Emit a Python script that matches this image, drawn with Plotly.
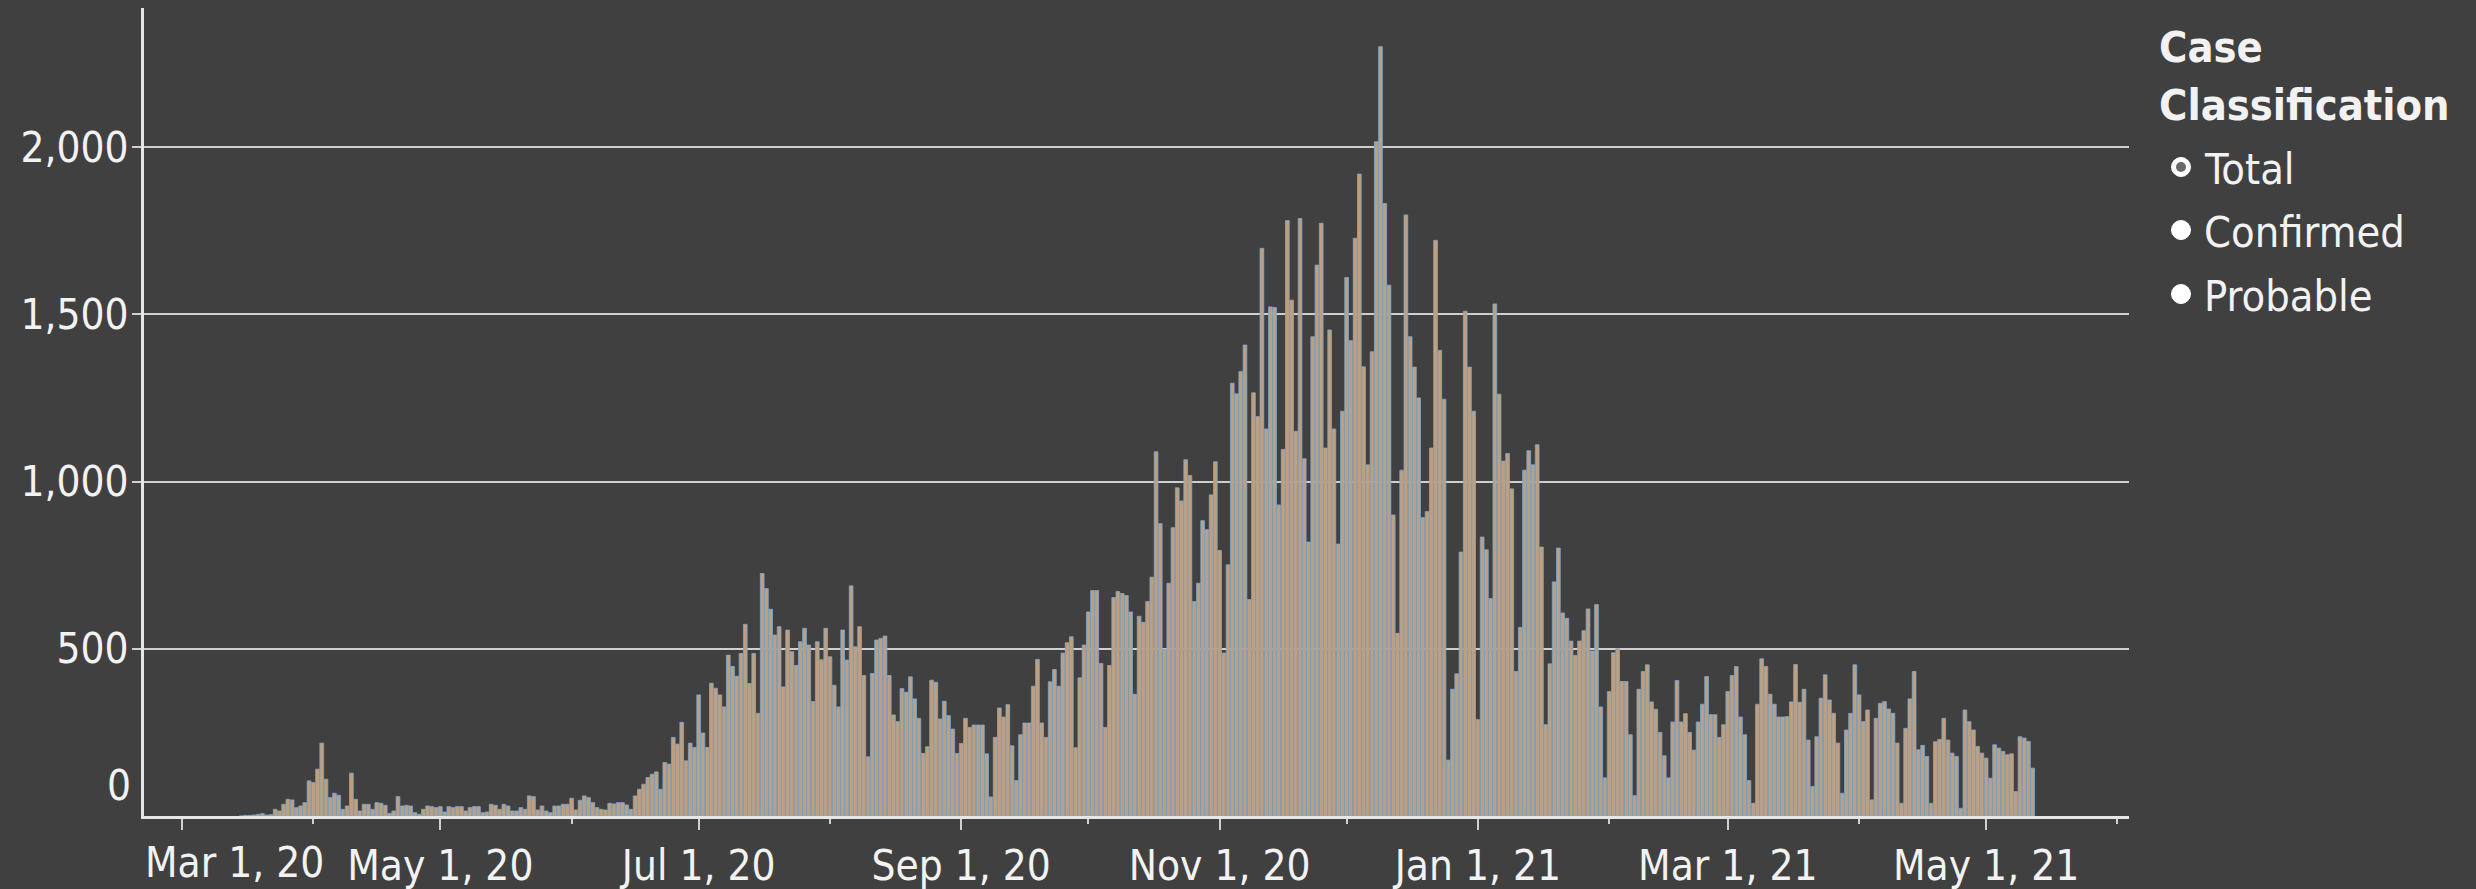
import pandas as pd
import plotly.graph_objects as go

# ---------------- data (daily case counts, Total) ----------------
start_date = "2020-03-15"
mar_2020 = [0, 2, 2, 3, 5, 7, 3, 4, 20, 15, 35, 50, 48, 25, 30, 40, 105]
apr_2020 = [100, 140, 218, 110, 55, 68, 62, 20, 30, 128, 50, 15, 35, 35, 20, 40, 38, 32, 8, 15,
            58, 30, 32, 30, 10, 5, 20, 30, 28, 25]
may_2020 = [28, 12, 28, 25, 28, 28, 15, 25, 28, 28, 10, 12, 35, 32, 20, 35, 30, 15, 15, 25,
            20, 60, 58, 18, 30, 15, 10, 30, 30, 35, 35]
jun_2020 = [53, 18, 47, 60, 55, 40, 25, 20, 18, 38, 36, 40, 40, 33, 20, 60, 80, 95, 115, 125,
            132, 80, 160, 155, 235, 215, 280, 165, 218, 205]
jul_2020 = [362, 248, 205, 397, 382, 362, 326, 481, 447, 418, 486, 573, 396, 486, 307, 725, 680,
            618, 541, 566, 386, 556, 491, 450, 521, 561, 511, 342, 521, 467, 561]
aug_2020 = [476, 391, 326, 556, 466, 688, 506, 566, 420, 177, 426, 526, 531, 538, 420, 302, 282,
            381, 370, 416, 350, 292, 187, 207, 406, 400, 290, 343, 300, 260, 187]
sep_2020 = [217, 292, 265, 272, 272, 272, 186, 57, 235, 323, 296, 333, 210, 106, 243, 278, 278,
            388, 468, 278, 235, 401, 438, 388, 487, 518, 536, 204, 413, 511]
oct_2020 = [610, 674, 674, 456, 265, 450, 653, 671, 665, 659, 610, 364, 597, 579, 641, 714, 1089,
            874, 499, 696, 862, 981, 942, 1065, 1018, 641, 696, 883, 856, 960, 1059]
nov_2020 = [794, 487, 751, 1294, 1262, 1329, 1408, 647, 1265, 1194, 1697, 1157, 1522, 1520, 930,
            1096, 1780, 1542, 1150, 1786, 1068, 819, 1433, 1647, 1772, 1100, 1453, 1157, 813, 1210]
dec_2020 = [1610, 1421, 1727, 1919, 1343, 1050, 1388, 2016, 2300, 1831, 1587, 900, 546, 1034, 1797,
            1433, 1342, 1250, 892, 910, 1100, 1721, 1392, 1246, 167, 379, 425, 789, 1509, 1342, 1210]
jan_2021 = [288, 834, 796, 650, 1531, 1261, 1061, 1084, 978, 432, 564, 1034, 1092, 1050, 1110, 804,
            273, 455, 700, 801, 607, 591, 523, 480, 523, 554, 619, 493, 632, 326, 114]
feb_2021 = [372, 488, 500, 402, 402, 243, 61, 379, 432, 452, 341, 319, 250, 180, 114, 281, 405, 281,
            306, 250, 197, 281, 334, 417, 303, 303, 235, 273]
mar_2021 = [372, 420, 447, 296, 243, 106, 38, 334, 470, 447, 364, 334, 296, 296, 297, 341, 453, 340,
            379, 227, 88, 237, 352, 422, 347, 307, 218, 68, 257, 307, 452]
apr_2021 = [362, 282, 317, 48, 292, 337, 342, 320, 307, 218, 38, 262, 350, 432, 198, 211, 178, 38,
            222, 229, 292, 227, 188, 178, 23, 317, 282, 257, 208, 188]
may_2021 = [173, 113, 213, 203, 193, 183, 186, 73, 237, 233, 223, 143]

y_tick_values = [500, 1000, 1500, 2000]
x_tick_values = ["2020-03-01", "2020-05-01", "2020-07-01", "2020-09-01", "2020-11-01",
                 "2021-01-01", "2021-03-01", "2021-05-01"]
x_tick_labels = ["", "May 1, 20", "Jul 1, 20", "Sep 1, 20", "Nov 1, 20",
                 "Jan 1, 21", "Mar 1, 21", "May 1, 21"]
first_tick_label = "Mar 1, 20"
minor_tick_values = ["2020-04-01", "2020-06-01", "2020-08-01", "2020-10-01", "2020-12-01",
                     "2021-02-01", "2021-04-01", "2021-06-01"]
legend_title = ["Case", "Classification"]
legend_items = ["Total", "Confirmed", "Probable"]

# ---------------------------------------------------------------
values = (mar_2020 + apr_2020 + may_2020 + jun_2020 + jul_2020 + aug_2020 + sep_2020 +
          oct_2020 + nov_2020 + dec_2020 + jan_2021 + feb_2021 + mar_2021 + apr_2021 + may_2021)
dates = pd.date_range(start_date, periods=len(values), freq="D")

W, H = 2476, 889
L, R, T, B = 144, 2129, 8, 816          # plot area in pixels
BG = "#404040"
TXT = "#f2f2f2"
FONT = "DejaVu Sans Condensed, DejaVu Sans, sans-serif"
TICK_SIZE = 42
LEG_SIZE = 43


def px(xp):
    return (xp - L) / (R - L)


def py(yp):
    return (B - yp) / (B - T)


fig = go.Figure()
fig.add_trace(go.Bar(
    x=dates, y=values,
    marker=dict(color="#bea07e", line=dict(color="#7ea7d0", width=0.8)),
    showlegend=False,
))

annotations = [
    dict(text=first_tick_label, xref="paper", yref="paper", x=0, y=py(862),
         xanchor="left", yanchor="middle", showarrow=False, borderpad=0,
         font=dict(family=FONT, size=TICK_SIZE, color=TXT)),
    dict(text="0", xref="paper", yref="paper", x=px(133), y=py(785),
         xanchor="right", yanchor="middle", showarrow=False,
         font=dict(family=FONT, size=TICK_SIZE, color=TXT)),
    dict(text="<b>%s</b>" % legend_title[0], xref="paper", yref="paper", x=px(2157), y=py(47),
         xanchor="left", yanchor="middle", showarrow=False,
         font=dict(family=FONT, size=LEG_SIZE, color=TXT)),
    dict(text="<b>%s</b>" % legend_title[1], xref="paper", yref="paper", x=px(2157), y=py(105),
         xanchor="left", yanchor="middle", showarrow=False,
         font=dict(family=FONT, size=LEG_SIZE, color=TXT)),
]
shapes = []
item_y = [167, 230, 294]
for i, (name, yy) in enumerate(zip(legend_items, item_y)):
    annotations.append(dict(text=name, xref="paper", yref="paper", x=px(2202), y=py(yy + 2),
                            xanchor="left", yanchor="middle", showarrow=False,
                            font=dict(family=FONT, size=LEG_SIZE, color=TXT)))
    shapes.append(dict(type="circle", xref="paper", yref="paper",
                       xsizemode="pixel", ysizemode="pixel",
                       xanchor=px(2181), yanchor=py(yy),
                       x0=-9.5, x1=9.5, y0=-9.5, y1=9.5,
                       fillcolor="#ffffff", line=dict(color="#ffffff", width=1)))
    if i == 0:
        shapes.append(dict(type="circle", xref="paper", yref="paper",
                           xsizemode="pixel", ysizemode="pixel",
                           xanchor=px(2181), yanchor=py(yy),
                           x0=-5, x1=5, y0=-5, y1=5,
                           fillcolor="#6a6a6a", line=dict(color="#6a6a6a", width=0)))

x_left = pd.Timestamp("2020-03-01") - pd.Timedelta(days=(182 - L) / 4.235)
x_right = pd.Timestamp("2020-03-01") + pd.Timedelta(days=(R - 182) / 4.235)

fig.update_layout(
    width=W, height=H,
    margin=dict(l=L, r=W - R, t=T, b=H - B, pad=0, autoexpand=False),
    paper_bgcolor=BG, plot_bgcolor=BG,
    bargap=0.12,
    font=dict(family=FONT, size=TICK_SIZE, color=TXT),
    annotations=annotations,
    shapes=shapes,
    xaxis=dict(
        type="date",
        range=[x_left, x_right],
        tickmode="array", tickvals=x_tick_values, ticktext=x_tick_labels,
        ticks="outside", ticklen=11, tickwidth=2, tickcolor="#d0d0d0",
        minor=dict(tickmode="array", tickvals=minor_tick_values, ticks="outside",
                   ticklen=5, tickwidth=2, tickcolor="#d0d0d0", showgrid=False),
        showline=True, linecolor="#e6e6e6", linewidth=3,
        showgrid=False, zeroline=False,
        tickfont=dict(family=FONT, size=TICK_SIZE, color=TXT),
        ticklabelstandoff=0,
        automargin=False,
    ),
    yaxis=dict(
        range=[0, (B - T) / 0.3345],
        tickmode="array", tickvals=y_tick_values,
        tickformat=",d",
        ticks="outside", ticklen=9, tickwidth=2, tickcolor="#cfcfcf",
        showline=True, linecolor="#e6e6e6", linewidth=3,
        showgrid=True, gridcolor="#cfcfcf", gridwidth=2,
        zeroline=False,
        tickfont=dict(family=FONT, size=TICK_SIZE, color=TXT),
        ticklabelstandoff=-5,
        automargin=False,
    ),
)

fig.write_html(
    "out.html",
    config={"displayModeBar": False},
    post_script="document.body.style.margin='0';document.body.style.background='#404040';",
)
